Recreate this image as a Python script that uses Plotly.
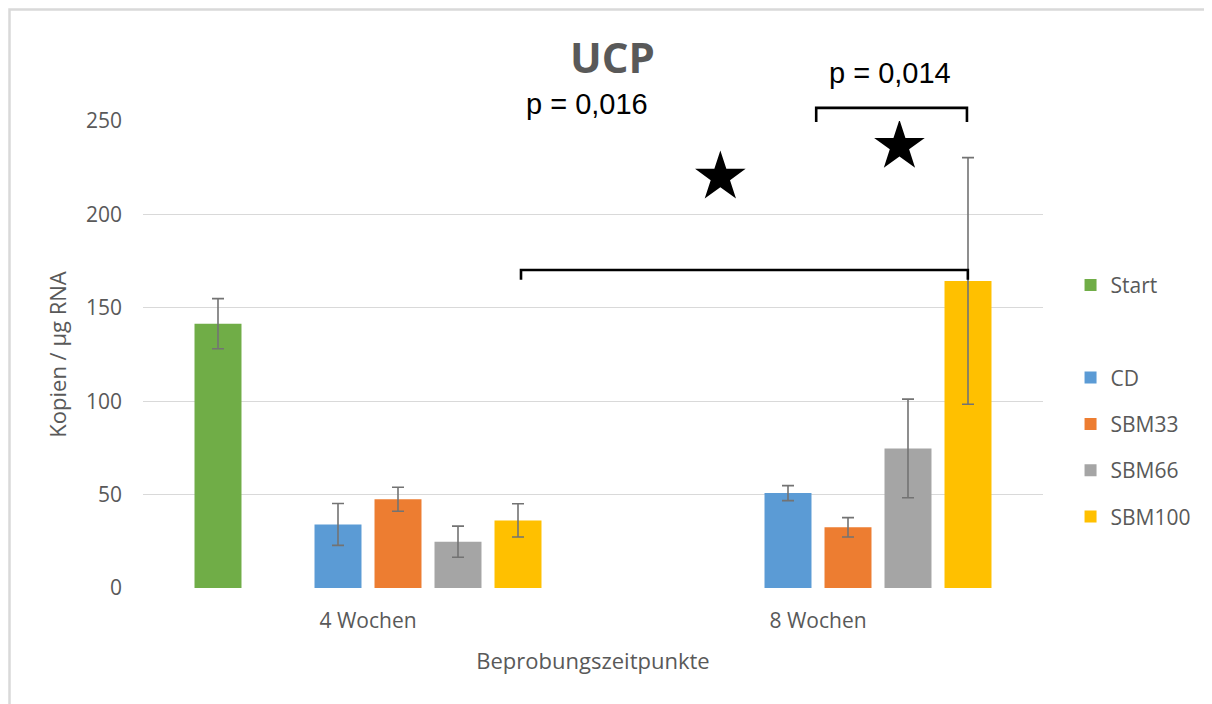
import plotly.graph_objects as go

# ---- data ----
categories = ["4 Wochen", "8 Wochen"]
x_pos = [0, 1]
series_names = ["Start", " ", "CD", "SBM33", "SBM66", "SBM100"]
start_vals = [141.5, None]
start_err = [13.4, None]
blank_vals = [None, None]
cd_vals = [34.0, 50.8]
cd_err = [11.2, 4.0]
sbm33_vals = [47.5, 32.5]
sbm33_err = [6.4, 5.2]
sbm66_vals = [24.8, 74.7]
sbm66_err = [8.3, 26.4]
sbm100_vals = [36.2, 164.4]
sbm100_err = [8.9, 66.0]
colors = ["#70AD47", "rgba(0,0,0,0)", "#5B9BD5", "#ED7D31", "#A5A5A5", "#FFC000"]

values = [start_vals, blank_vals, cd_vals, sbm33_vals, sbm66_vals, sbm100_vals]
errors = [start_err, None, cd_err, sbm33_err, sbm66_err, sbm100_err]

y_ticks = [0, 50, 100, 150, 200, 250]
y_range = [0, 250]
x_range = [-0.5, 1.5]

# significance annotations
p_texts = ["p = 0,016", "p = 0,014"]
star_x = [0.783, 1.181]
star_y = [220.0, 236.5]
# brackets: (x_left, x_right, y_low, y_high) in data units
brackets = [(0.34, 1.333, 165.0, 170.2), (0.996, 1.331, 249.5, 257.0)]

grey = "#595959"
font_main = "Open Sans"

# the page body adds an 8 px margin; the figure is sized to fit the window
W, H = 1204, 696
ML, MR, MT, MB = 135, 169, 113, 116
PW, PH = W - ML - MR, H - MT - MB

fig = go.Figure()
for name, vals, err, col in zip(series_names, values, errors, colors):
    kw = {}
    if err is not None:
        kw["error_y"] = dict(type="data", array=err, visible=True,
                             color="#737373", thickness=1.6, width=6)
    fig.add_trace(go.Bar(
        x=x_pos, y=[v if v is not None else (0 if name == " " else None) for v in vals],
        name=name, legendgroup=name,
        marker=dict(color=col, line=dict(width=0)),
        showlegend=True, hoverinfo="skip" if name == " " else None,
        **kw))

fig.add_trace(go.Scatter(
    x=star_x, y=star_y, mode="markers",
    marker=dict(symbol="star", size=38, color="black", line=dict(width=0)),
    showlegend=False, hoverinfo="skip"))


def px_x(v):
    return (v - x_range[0]) / (x_range[1] - x_range[0])


def px_y(v):
    return (v - y_range[0]) / (y_range[1] - y_range[0])


shapes = []
for (xl, xr, yl, yh) in brackets:
    path = (f"M{px_x(xl)},{px_y(yl)} L{px_x(xl)},{px_y(yh)} "
            f"L{px_x(xr)},{px_y(yh)} L{px_x(xr)},{px_y(yl)}")
    shapes.append(dict(type="path", xref="paper", yref="paper", path=path,
                       line=dict(color="black", width=2.6)))
# chart border (light grey frame along the top and left edge only)
bx0 = (1.5 - ML) / PW
by1 = (H - MB - 1.5) / PH
bx1 = (W - ML) / PW
by0 = -(MB) / PH
shapes.append(dict(type="path", xref="paper", yref="paper",
                   path=f"M{bx0},{by0} L{bx0},{by1} L{bx1},{by1}",
                   line=dict(color="#d9d9d9", width=2.5)))

annotations = [
    dict(text=p_texts[0], xref="paper", yref="paper", x=px_x(0.487), y=px_y(259.0),
         showarrow=False, font=dict(family="Liberation Sans, Arial", size=29, color="black"),
         xanchor="center", yanchor="middle"),
    dict(text=p_texts[1], xref="paper", yref="paper", x=px_x(1.16), y=px_y(275.5),
         showarrow=False, font=dict(family="Liberation Sans, Arial", size=29, color="black"),
         xanchor="center", yanchor="middle"),
]

fig.update_layout(
    width=W, height=H,
    margin=dict(l=ML, r=MR, t=MT, b=MB),
    paper_bgcolor="white", plot_bgcolor="white",
    barmode="group", bargap=0.2, bargroupgap=0.217,
    title=dict(text="<b>UCP</b>", x=0.5217, xref="paper", y=1 - 50 / H,
               yref="container", xanchor="center", yanchor="middle",
               font=dict(family=font_main, size=42, color=grey)),
    font=dict(family=font_main, color=grey),
    xaxis=dict(range=x_range, tickvals=x_pos, ticktext=categories,
               showgrid=False, zeroline=False, showline=False,
               tickfont=dict(size=21, color=grey), ticklabelstandoff=18,
               title=dict(text="Beprobungszeitpunkte", font=dict(size=22, color=grey), standoff=20)),
    yaxis=dict(range=y_range, tickvals=y_ticks, showgrid=True, gridcolor="#d9d9d9",
               gridwidth=1.3, zeroline=False, showline=False,
               tickfont=dict(size=21, color=grey), ticklabelstandoff=20,
               title=dict(text="Kopien / µg RNA", font=dict(size=22, color=grey), standoff=13)),
    legend=dict(x=1.0306, xanchor="left", y=0.692, yanchor="top",
                traceorder="grouped", tracegroupgap=16,
                font=dict(size=21, color=grey), bgcolor="rgba(0,0,0,0)"),
    shapes=shapes, annotations=annotations,
)

fig.write_html("out.html")
